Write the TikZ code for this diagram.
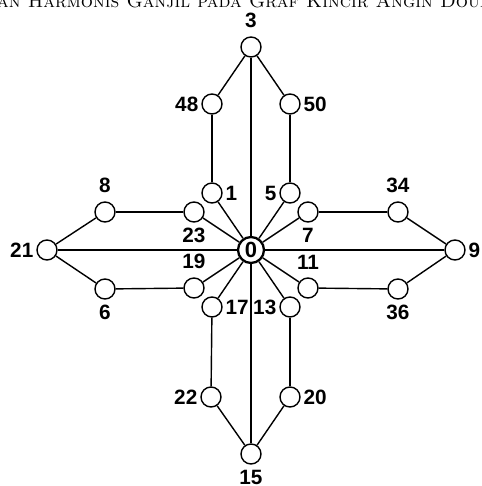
\documentclass[tikz,border=0pt]{standalone}
\usepackage{fontspec}
\newfontfamily\labfont{Liberation Sans}
\usetikzlibrary{positioning}

\tikzset{
  vtx/.style={draw, circle, fill=white, minimum size=4mm, inner sep=0pt, line width=0.8pt},
  hub/.style={draw, circle, fill=white, minimum size=5.2mm, inner sep=0pt, line width=1.3pt,
              font=\labfont\fontsize{12.5}{14}\selectfont\bfseries},
  every label/.style={font=\labfont\fontsize{11.8}{14}\selectfont\bfseries, inner sep=1pt},
  label distance=0.5pt,
  lblabove/.style={label distance=3.5pt},
  lblbelow/.style={label distance=2pt},
  lblleft/.style={},
  lblright/.style={},
  edge/.style={line width=0.8pt}
}

\begin{document}
\begin{tikzpicture}
\useasboundingbox (-5.02,-4.72) rectangle (4.62,5.0);

% cropped caption at the top
\node[anchor=base, font=\fontsize{10.9}{13}\selectfont\scshape, inner sep=0pt] (title) at (0.8,4.86)
  {Pelabelan Harmonis Ganjil pada Graf Kincir Angin Double Quadrilateral};

% vertices
\node[hub] (v0) at (0,0) {0};
\foreach \n/\x/\y/\where in {
   3/0/4.06/above, 48/-0.78/2.92/left, 50/0.78/2.92/right,
   1/-0.78/1.14/right, 5/0.78/1.14/left,
   23/-1.14/0.76/below, 7/1.14/0.76/below,
   8/-2.92/0.76/above, 34/2.94/0.76/above,
   21/-4.08/0/left, 9/4.08/0/right,
   19/-1.14/-0.76/above, 11/1.14/-0.76/above,
   6/-2.92/-0.78/below, 36/2.94/-0.78/below,
   17/-0.78/-1.14/right, 13/0.78/-1.14/left,
   22/-0.8/-2.94/left, 20/0.78/-2.94/right,
   15/0/-4.08/below}
{
  \node[vtx, label={[lbl\where]\where:\n}] (v\n) at (\x,\y) {};
}

% edges
\foreach \a/\b in {0/3, 0/9, 0/15, 0/21,
   0/1, 0/5, 0/7, 0/11, 0/13, 0/17, 0/19, 0/23,
   3/48, 3/50, 48/1, 50/5,
   9/34, 9/36, 34/7, 36/11,
   15/22, 15/20, 22/17, 20/13,
   21/8, 21/6, 8/23, 6/19}
{
  \draw[edge] (v\a) -- (v\b);
}

\end{tikzpicture}
\end{document}
